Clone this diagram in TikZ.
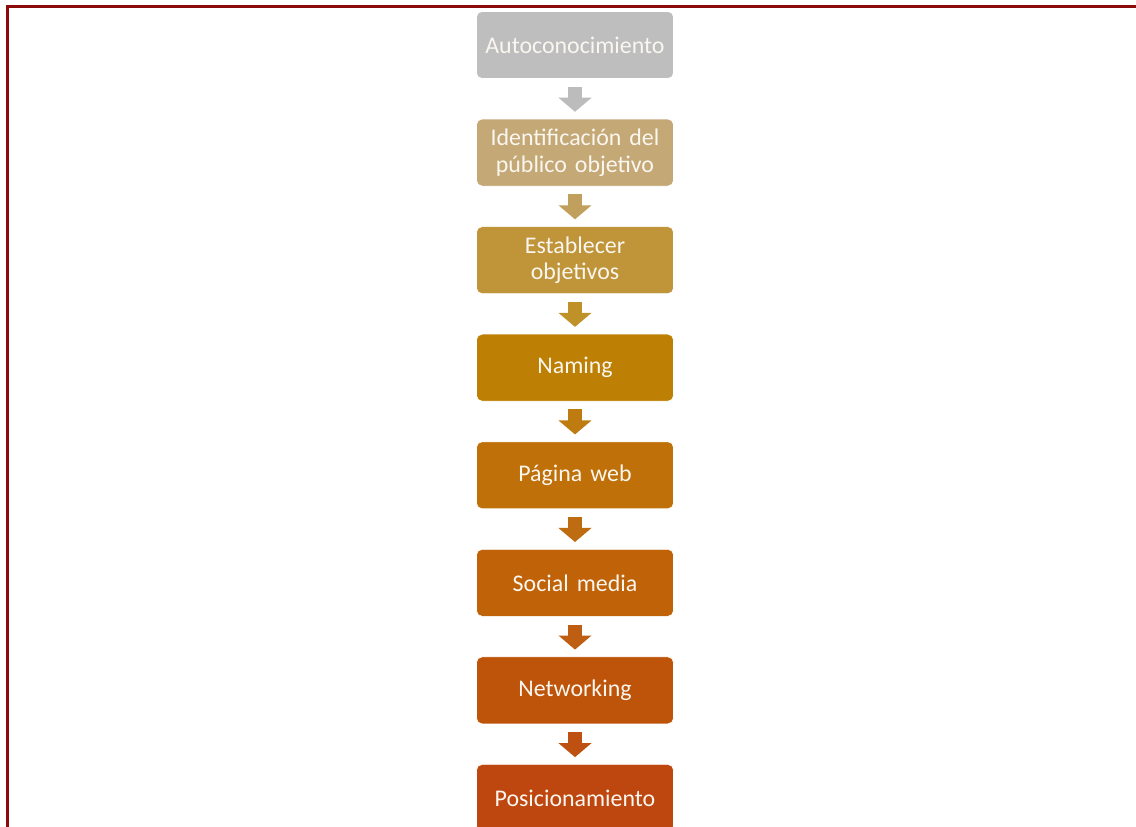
\documentclass[tikz,border=0pt]{standalone}
\usepackage{fontspec}
\setmainfont{Carlito}
\usetikzlibrary{positioning, arrows.meta}

\definecolor{framered}{RGB}{140,12,12}
\definecolor{stepA}{RGB}{190,190,190}
\definecolor{stepB}{RGB}{196,168,118}
\definecolor{stepC}{RGB}{192,148,56}
\definecolor{stepD}{RGB}{189,128,4}
\definecolor{stepE}{RGB}{191,112,8}
\definecolor{stepF}{RGB}{192,98,8}
\definecolor{stepG}{RGB}{190,84,10}
\definecolor{stepH}{RGB}{190,70,15}
\definecolor{arrowA}{RGB}{188,188,188}
\definecolor{arrowB}{RGB}{192,160,92}
\definecolor{arrowC}{RGB}{190,146,40}
\definecolor{arrowD}{RGB}{190,124,16}
\definecolor{arrowE}{RGB}{190,108,18}
\definecolor{arrowF}{RGB}{190,94,18}
\definecolor{arrowG}{RGB}{190,80,18}
\definecolor{steptext}{RGB}{250,246,240}

\tikzset{
    stepnode/.style={rectangle, rounded corners=4pt, draw=white, thin, minimum width=4.925cm, minimum height=1.675cm, text width=4.9cm, align=center, inner sep=0pt, text=steptext, font=\fontsize{17}{19}\selectfont},
    downarrow/.style={line width=10.5pt, -{Triangle[width=23pt, length=10pt]}, shorten <=0.2cm, shorten >=0.175cm},
    framestyle/.style={draw=framered, line width=2.1pt}
}

\begin{document}
\begin{tikzpicture}[node distance=1cm]

    \useasboundingbox (0,0) rectangle (28.4,-20.675);

    % ------------------
    % frame
    % ------------------

    \draw[framestyle] (0.19,-20.675) |- (28.4,-0.165);

    % ------------------
    % nodes
    % ------------------

    \node[stepnode, fill=stepA] (auto) at (14.375,-1.125) {Autoconocimiento};
    \node[stepnode, fill=stepB, below=of auto] (publico) {Identificación del\\público objetivo};
    \node[stepnode, fill=stepC, below=of publico] (objetivos) {Establecer\\objetivos};
    \node[stepnode, fill=stepD, below=of objetivos] (naming) {Naming};
    \node[stepnode, fill=stepE, below=of naming] (web) {Página web};
    \node[stepnode, fill=stepF, below=of web] (social) {Social media};
    \node[stepnode, fill=stepG, below=of social] (network) {Networking};
    \node[stepnode, fill=stepH, below=of network] (posicion) {Posicionamiento};

    % ------------------
    % arrows
    % ------------------

    \draw[downarrow, arrowA] (auto) -- (publico);
    \draw[downarrow, arrowB] (publico) -- (objetivos);
    \draw[downarrow, arrowC] (objetivos) -- (naming);
    \draw[downarrow, arrowD] (naming) -- (web);
    \draw[downarrow, arrowE] (web) -- (social);
    \draw[downarrow, arrowF] (social) -- (network);
    \draw[downarrow, arrowG] (network) -- (posicion);

\end{tikzpicture}
\end{document}
